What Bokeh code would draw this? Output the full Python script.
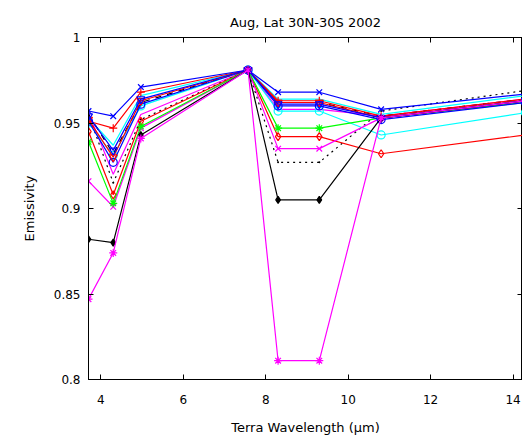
from bokeh.plotting import figure
from bokeh.models import FixedTicker, LinearAxis, Range1d, Title
from bokeh.embed import file_html
from bokeh.resources import INLINE

# ---- data ----
wavelength = [3.7, 4.3, 4.97, 7.57, 8.3, 9.3, 10.8, 14.3]

blue_x      = [0.957, 0.954, 0.971, 0.981, 0.968, 0.968, 0.958, 0.967]
red_plus    = [0.951, 0.947, 0.968, 0.981, 0.963, 0.963, 0.954, 0.964]
cyan_plain  = [0.953, 0.937, 0.966, 0.981, 0.964, 0.964, 0.955, 0.966]
black_dash  = [0.955, 0.932, 0.962, 0.981, 0.962, 0.962, 0.954, 0.964]
blue_tri    = [0.954, 0.934, 0.964, 0.981, 0.961, 0.961, 0.953, 0.963]
red_tri     = [0.952, 0.930, 0.963, 0.981, 0.962, 0.962, 0.953, 0.963]
blue_o      = [0.951, 0.927, 0.961, 0.981, 0.960, 0.960, 0.952, 0.962]
cyan_o      = [0.950, 0.931, 0.960, 0.981, 0.957, 0.957, 0.943, 0.956]
green_star  = [0.939, 0.903, 0.948, 0.981, 0.947, 0.947, 0.953, 0.962]
red_diamond = [0.945, 0.908, 0.951, 0.981, 0.942, 0.942, 0.932, 0.943]
magenta_x   = [0.916, 0.901, 0.947, 0.981, 0.935, 0.935, 0.953, 0.963]
black_dot   = [0.955, 0.915, 0.952, 0.981, 0.927, 0.927, 0.957, 0.969]
magenta_ln  = [0.956, 0.920, 0.955, 0.981, 0.958, 0.958, 0.954, 0.964]
black_dmd   = [0.882, 0.880, 0.943, 0.981, 0.905, 0.905, 0.953, 0.963]
magenta_st  = [0.847, 0.874, 0.941, 0.981, 0.811, 0.811, 0.953, 0.963]

y_ticks = [0.8, 0.85, 0.9, 0.95, 1.0]
y_tick_labels = ["0.8", "0.85", "0.9", "0.95", "1"]
x_ticks = [4, 6, 8, 10, 12, 14]

# (values, color, line_dash, marker, filled)
series = [
    (magenta_ln, "#ff00ff", "solid", None, False),
    (black_dot, "#000000", "dotted", "dot", True),
    (cyan_plain, "#00ffff", "solid", None, False),
    (cyan_o, "#00ffff", "solid", "circle", False),
    (red_diamond, "#ff0000", "solid", "diamond", False),
    (magenta_x, "#ff00ff", "solid", "x", False),
    (green_star, "#00ff00", "solid", "asterisk", False),
    (black_dash, "#000000", "dashed", None, False),
    (red_plus, "#ff0000", "solid", "cross", False),
    (blue_o, "#0000ff", "solid", "circle", False),
    (red_tri, "#ff0000", "solid", "inverted_triangle", False),
    (blue_tri, "#0000ff", "solid", "inverted_triangle", False),
    (blue_x, "#0000ff", "solid", "x", False),
    (black_dmd, "#000000", "solid", "diamond", True),
    (magenta_st, "#ff00ff", "solid", "asterisk", False),
]

FONT = "DejaVu Sans"

p = figure(width=522, height=437, output_backend="svg", toolbar_location=None,
           x_range=Range1d(3.7, 14.23), y_range=Range1d(0.8, 1.0),
           min_border_left=88, min_border_right=0, min_border_top=37,
           min_border_bottom=57)
p.title = Title(text="Aug, Lat 30N-30S 2002", align="center",
                text_font=FONT, text_font_size="13px", text_font_style="normal",
                text_color="black", standoff=16)
p.grid.visible = False
p.outline_line_color = "black"
p.outline_line_width = 1
p.background_fill_color = "white"
p.border_fill_color = "white"

for vals, color, dash, marker, filled in series:
    p.line(wavelength, vals, line_color=color, line_width=1.2, line_dash=dash)
    if marker is not None:
        size = 8
        if marker == "diamond" and filled:
            size = 7
        p.scatter(wavelength, vals, marker=marker, size=size,
                  line_color=color, line_width=1.2,
                  fill_color=color if filled else None)

xa = p.xaxis[0]
ya = p.yaxis[0]
xa.ticker = FixedTicker(ticks=x_ticks)
ya.ticker = FixedTicker(ticks=y_ticks)
ya.major_label_overrides = {t: l for t, l in zip(y_ticks, y_tick_labels)}
for ax in (xa, ya):
    ax.major_tick_in = 5
    ax.major_tick_out = 0
    ax.minor_tick_in = 0
    ax.minor_tick_out = 0
    ax.axis_line_color = "black"
    ax.major_tick_line_color = "black"
    ax.major_label_text_font = FONT
    ax.major_label_text_font_size = "12px"
    ax.major_label_text_color = "black"
    ax.axis_label_text_font = FONT
    ax.axis_label_text_font_size = "13px"
    ax.axis_label_text_font_style = "normal"
    ax.axis_label_text_color = "black"
xa.axis_label = "Terra Wavelength (\u03bcm)"
ya.axis_label = "Emissivity"
xa.major_label_standoff = 15
xa.axis_label_standoff = 13
ya.major_label_standoff = 8
ya.axis_label_standoff = 14

# mirrored ticks on top and right (no labels)
top = LinearAxis(ticker=FixedTicker(ticks=x_ticks),
                 major_label_overrides={t: "" for t in x_ticks},
                 major_label_standoff=0,
                 major_tick_in=5, major_tick_out=0, minor_tick_in=0, minor_tick_out=0,
                 axis_line_color="black", major_tick_line_color="black")
right = LinearAxis(ticker=FixedTicker(ticks=y_ticks),
                   major_label_overrides={t: "" for t in y_ticks},
                   major_label_standoff=0,
                   major_tick_in=5, major_tick_out=0, minor_tick_in=0, minor_tick_out=0,
                   axis_line_color="black", major_tick_line_color="black")
p.add_layout(top, "above")
p.add_layout(right, "right")

open("out.html", "w").write(file_html(p, INLINE))
